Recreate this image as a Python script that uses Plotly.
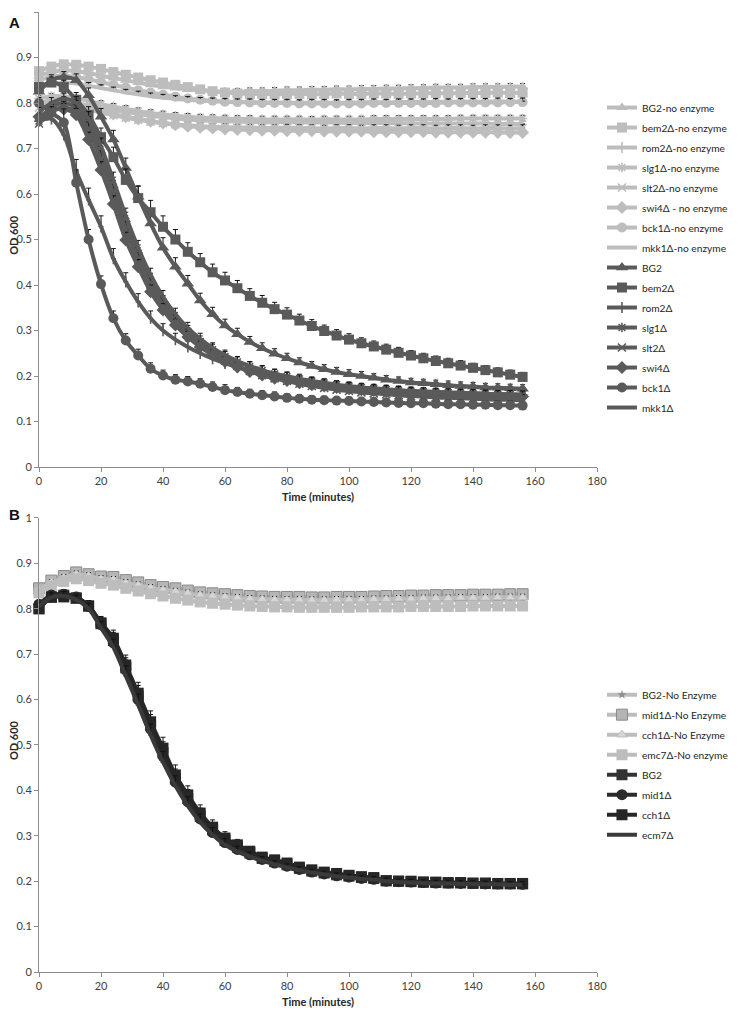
import plotly.graph_objects as go

# ---------------- data ----------------
time_min = [0, 4, 8, 12, 16, 20, 24, 28, 32, 36, 40, 44, 48, 52, 56, 60, 64, 68, 72, 76,
            80, 84, 88, 92, 96, 100, 104, 108, 112, 116, 120, 124, 128, 132, 136, 140, 144, 148, 152, 156]

x_ticks = [0, 20, 40, 60, 80, 100, 120, 140, 160, 180]

# Panel A - no enzyme controls
a_bg2_ne = [0.860, 0.868, 0.872, 0.870, 0.866, 0.860, 0.855, 0.850, 0.845, 0.840,
            0.836, 0.833, 0.830, 0.828, 0.826, 0.825, 0.825, 0.826, 0.826, 0.827,
            0.828, 0.828, 0.829, 0.829, 0.830, 0.830, 0.831, 0.831, 0.832, 0.832,
            0.833, 0.833, 0.834, 0.834, 0.834, 0.835, 0.835, 0.835, 0.836, 0.836]
a_bem2_ne = [0.870, 0.880, 0.885, 0.884, 0.880, 0.875, 0.868, 0.862, 0.856, 0.850,
             0.845, 0.840, 0.835, 0.830, 0.826, 0.823, 0.821, 0.820, 0.820, 0.819,
             0.820, 0.820, 0.819, 0.820, 0.821, 0.820, 0.820, 0.821, 0.821, 0.820,
             0.821, 0.821, 0.822, 0.821, 0.822, 0.822, 0.822, 0.823, 0.822, 0.823]
a_rom2_ne = [0.800, 0.805, 0.805, 0.800, 0.795, 0.790, 0.785, 0.780, 0.776, 0.772,
             0.769, 0.766, 0.764, 0.762, 0.761, 0.760, 0.759, 0.759, 0.758, 0.758,
             0.758, 0.757, 0.757, 0.757, 0.757, 0.756, 0.756, 0.756, 0.756, 0.756,
             0.755, 0.755, 0.755, 0.755, 0.755, 0.755, 0.755, 0.754, 0.754, 0.754]
a_slg1_ne = [0.810, 0.815, 0.815, 0.810, 0.805, 0.798, 0.792, 0.787, 0.782, 0.778,
             0.775, 0.772, 0.770, 0.768, 0.767, 0.766, 0.765, 0.765, 0.764, 0.764,
             0.764, 0.764, 0.763, 0.764, 0.764, 0.764, 0.764, 0.765, 0.765, 0.765,
             0.765, 0.765, 0.765, 0.765, 0.766, 0.766, 0.766, 0.766, 0.766, 0.766]
a_slt2_ne = [0.790, 0.795, 0.795, 0.790, 0.785, 0.779, 0.773, 0.768, 0.763, 0.759,
             0.756, 0.753, 0.751, 0.749, 0.748, 0.747, 0.746, 0.746, 0.745, 0.745,
             0.746, 0.745, 0.745, 0.744, 0.745, 0.745, 0.744, 0.745, 0.745, 0.744,
             0.745, 0.745, 0.744, 0.745, 0.745, 0.744, 0.745, 0.745, 0.744, 0.745]
a_swi4_ne = [0.800, 0.805, 0.803, 0.797, 0.790, 0.783, 0.776, 0.770, 0.765, 0.760,
             0.756, 0.752, 0.749, 0.747, 0.745, 0.743, 0.742, 0.741, 0.740, 0.740,
             0.739, 0.739, 0.739, 0.738, 0.738, 0.738, 0.738, 0.737, 0.737, 0.737,
             0.737, 0.737, 0.736, 0.736, 0.736, 0.736, 0.736, 0.735, 0.735, 0.735]
a_bck1_ne = [0.850, 0.858, 0.860, 0.857, 0.852, 0.846, 0.840, 0.834, 0.828, 0.823,
             0.818, 0.814, 0.810, 0.807, 0.805, 0.803, 0.802, 0.801, 0.800, 0.800,
             0.800, 0.799, 0.799, 0.799, 0.799, 0.799, 0.799, 0.800, 0.800, 0.800,
             0.800, 0.800, 0.800, 0.801, 0.801, 0.801, 0.801, 0.801, 0.802, 0.802]
a_mkk1_ne = [0.835, 0.842, 0.845, 0.843, 0.838, 0.833, 0.828, 0.823, 0.819, 0.815,
             0.812, 0.809, 0.807, 0.805, 0.804, 0.803, 0.802, 0.802, 0.801, 0.801,
             0.801, 0.800, 0.801, 0.801, 0.800, 0.801, 0.801, 0.802, 0.801, 0.802,
             0.802, 0.802, 0.803, 0.802, 0.803, 0.803, 0.803, 0.804, 0.803, 0.804]

# Panel A - with enzyme
a_bg2 = [0.825, 0.850, 0.857, 0.850, 0.817, 0.770, 0.720, 0.657, 0.594, 0.535,
         0.482, 0.440, 0.403, 0.366, 0.336, 0.311, 0.292, 0.275, 0.261, 0.249,
         0.239, 0.230, 0.222, 0.215, 0.209, 0.204, 0.200, 0.196, 0.192, 0.189,
         0.186, 0.184, 0.182, 0.180, 0.178, 0.177, 0.175, 0.174, 0.173, 0.172]
a_bem2 = [0.835, 0.845, 0.835, 0.807, 0.774, 0.725, 0.681, 0.631, 0.591, 0.560,
          0.528, 0.500, 0.473, 0.450, 0.428, 0.410, 0.393, 0.376, 0.361, 0.347,
          0.335, 0.322, 0.310, 0.299, 0.289, 0.280, 0.272, 0.265, 0.258, 0.251,
          0.245, 0.239, 0.233, 0.228, 0.223, 0.218, 0.213, 0.208, 0.203, 0.198]
a_rom2 = [0.760, 0.765, 0.730, 0.650, 0.587, 0.528, 0.458, 0.407, 0.363, 0.327,
          0.300, 0.280, 0.264, 0.250, 0.238, 0.228, 0.220, 0.212, 0.205, 0.199,
          0.193, 0.188, 0.184, 0.180, 0.177, 0.174, 0.171, 0.169, 0.167, 0.165,
          0.163, 0.161, 0.160, 0.159, 0.158, 0.157, 0.156, 0.155, 0.154, 0.153]
a_slg1 = [0.760, 0.790, 0.800, 0.790, 0.750, 0.690, 0.615, 0.540, 0.470, 0.410,
          0.362, 0.326, 0.298, 0.276, 0.258, 0.243, 0.231, 0.221, 0.212, 0.205,
          0.199, 0.194, 0.189, 0.185, 0.181, 0.178, 0.175, 0.173, 0.171, 0.169,
          0.167, 0.166, 0.165, 0.164, 0.163, 0.162, 0.161, 0.160, 0.160, 0.159]
a_slt2 = [0.755, 0.780, 0.790, 0.780, 0.740, 0.675, 0.600, 0.522, 0.456, 0.400,
          0.356, 0.320, 0.291, 0.268, 0.249, 0.234, 0.222, 0.211, 0.202, 0.195,
          0.189, 0.183, 0.178, 0.174, 0.170, 0.167, 0.164, 0.162, 0.160, 0.158,
          0.156, 0.155, 0.153, 0.152, 0.151, 0.150, 0.149, 0.148, 0.148, 0.147]
a_swi4 = [0.770, 0.785, 0.787, 0.774, 0.720, 0.653, 0.578, 0.499, 0.440, 0.385,
          0.345, 0.312, 0.286, 0.264, 0.246, 0.232, 0.220, 0.210, 0.202, 0.195,
          0.190, 0.185, 0.181, 0.178, 0.175, 0.172, 0.170, 0.168, 0.166, 0.164,
          0.163, 0.162, 0.161, 0.160, 0.159, 0.158, 0.157, 0.156, 0.155, 0.155]
a_bck1 = [0.800, 0.778, 0.757, 0.625, 0.500, 0.402, 0.327, 0.278, 0.245, 0.216,
          0.201, 0.192, 0.188, 0.183, 0.176, 0.169, 0.165, 0.161, 0.158, 0.155,
          0.152, 0.150, 0.148, 0.147, 0.146, 0.145, 0.144, 0.143, 0.142, 0.141,
          0.140, 0.140, 0.139, 0.138, 0.138, 0.137, 0.137, 0.136, 0.136, 0.135]
a_mkk1 = [0.780, 0.800, 0.810, 0.800, 0.765, 0.705, 0.630, 0.552, 0.482, 0.422,
          0.374, 0.336, 0.306, 0.282, 0.262, 0.246, 0.233, 0.222, 0.213, 0.205,
          0.199, 0.193, 0.188, 0.184, 0.180, 0.177, 0.174, 0.172, 0.170, 0.168,
          0.167, 0.166, 0.165, 0.164, 0.163, 0.162, 0.161, 0.160, 0.160, 0.159]

# Error bars (upper) for with-enzyme series in panel A
a_bg2_err = [0.010, 0.012, 0.012, 0.014, 0.016, 0.018, 0.020, 0.022, 0.024, 0.024,
             0.022, 0.020, 0.018, 0.016, 0.015, 0.014, 0.013, 0.012, 0.012, 0.011,
             0.011, 0.010, 0.010, 0.010, 0.010, 0.010, 0.010, 0.009, 0.009, 0.009,
             0.009, 0.009, 0.009, 0.009, 0.009, 0.009, 0.009, 0.009, 0.009, 0.009]
a_bem2_err = [0.010, 0.012, 0.014, 0.016, 0.018, 0.020, 0.022, 0.024, 0.026, 0.026,
              0.024, 0.022, 0.020, 0.019, 0.018, 0.018, 0.017, 0.016, 0.016, 0.015,
              0.015, 0.014, 0.014, 0.013, 0.013, 0.013, 0.012, 0.012, 0.012, 0.012,
              0.011, 0.011, 0.011, 0.011, 0.011, 0.010, 0.010, 0.010, 0.010, 0.010]
a_rom2_err = [0.010, 0.014, 0.022, 0.026, 0.026, 0.024, 0.022, 0.020, 0.018, 0.016,
              0.015, 0.014, 0.013, 0.012, 0.012, 0.011, 0.011, 0.010, 0.010, 0.010,
              0.010, 0.010, 0.009, 0.009, 0.009, 0.009, 0.009, 0.009, 0.009, 0.009,
              0.009, 0.009, 0.008, 0.008, 0.008, 0.008, 0.008, 0.008, 0.008, 0.008]
a_slg1_err = [0.010, 0.012, 0.014, 0.016, 0.020, 0.022, 0.022, 0.020, 0.018, 0.016,
              0.015, 0.014, 0.013, 0.012, 0.012, 0.011, 0.011, 0.010, 0.010, 0.010,
              0.010, 0.010, 0.009, 0.009, 0.009, 0.009, 0.009, 0.009, 0.009, 0.009,
              0.009, 0.008, 0.008, 0.008, 0.008, 0.008, 0.008, 0.008, 0.008, 0.008]
a_slt2_err = [0.010, 0.012, 0.014, 0.016, 0.018, 0.020, 0.020, 0.018, 0.016, 0.015,
              0.014, 0.013, 0.012, 0.012, 0.011, 0.011, 0.010, 0.010, 0.010, 0.010,
              0.009, 0.009, 0.009, 0.009, 0.009, 0.009, 0.009, 0.009, 0.008, 0.008,
              0.008, 0.008, 0.008, 0.008, 0.008, 0.008, 0.008, 0.008, 0.008, 0.008]
a_swi4_err = [0.010, 0.012, 0.012, 0.014, 0.016, 0.018, 0.018, 0.017, 0.016, 0.015,
              0.014, 0.013, 0.012, 0.011, 0.011, 0.010, 0.010, 0.010, 0.009, 0.009,
              0.009, 0.009, 0.009, 0.009, 0.008, 0.008, 0.008, 0.008, 0.008, 0.008,
              0.008, 0.008, 0.008, 0.008, 0.008, 0.008, 0.008, 0.008, 0.008, 0.008]
a_bck1_err = [0.012, 0.014, 0.030, 0.028, 0.022, 0.018, 0.016, 0.015, 0.014, 0.013,
              0.012, 0.011, 0.011, 0.011, 0.011, 0.012, 0.010, 0.010, 0.010, 0.010,
              0.009, 0.009, 0.009, 0.009, 0.009, 0.009, 0.009, 0.009, 0.009, 0.009,
              0.009, 0.009, 0.009, 0.009, 0.009, 0.009, 0.009, 0.009, 0.009, 0.009]
a_mkk1_err = [0.010, 0.012, 0.012, 0.014, 0.016, 0.018, 0.018, 0.017, 0.016, 0.015,
              0.014, 0.013, 0.012, 0.012, 0.011, 0.011, 0.010, 0.010, 0.010, 0.010,
              0.009, 0.009, 0.009, 0.009, 0.009, 0.009, 0.009, 0.009, 0.009, 0.009,
              0.008, 0.008, 0.008, 0.008, 0.008, 0.008, 0.008, 0.008, 0.008, 0.008]

# shared small error values for no-enzyme controls
ne_err = [0.006, 0.006, 0.007, 0.007, 0.007, 0.007, 0.007, 0.007, 0.007, 0.007,
          0.007, 0.007, 0.007, 0.007, 0.007, 0.007, 0.007, 0.007, 0.007, 0.007,
          0.007, 0.007, 0.007, 0.007, 0.007, 0.007, 0.007, 0.007, 0.007, 0.007,
          0.007, 0.007, 0.007, 0.007, 0.007, 0.007, 0.007, 0.007, 0.007, 0.007]

# Panel B - no enzyme controls
b_bg2_ne = [0.840, 0.855, 0.865, 0.872, 0.868, 0.862, 0.860, 0.853, 0.848, 0.842,
            0.838, 0.834, 0.830, 0.826, 0.824, 0.821, 0.819, 0.817, 0.816, 0.815,
            0.815, 0.815, 0.814, 0.814, 0.815, 0.815, 0.815, 0.816, 0.816, 0.816,
            0.817, 0.817, 0.817, 0.818, 0.818, 0.818, 0.818, 0.818, 0.819, 0.819]
b_mid1_ne = [0.845, 0.862, 0.872, 0.880, 0.876, 0.871, 0.870, 0.863, 0.858, 0.852,
             0.848, 0.845, 0.840, 0.836, 0.834, 0.832, 0.830, 0.828, 0.827, 0.826,
             0.826, 0.826, 0.825, 0.825, 0.826, 0.826, 0.826, 0.827, 0.828, 0.828,
             0.829, 0.829, 0.830, 0.830, 0.830, 0.831, 0.831, 0.831, 0.832, 0.832]
b_cch1_ne = [0.842, 0.858, 0.868, 0.876, 0.872, 0.866, 0.864, 0.857, 0.852, 0.846,
             0.842, 0.838, 0.834, 0.830, 0.828, 0.826, 0.824, 0.822, 0.821, 0.820,
             0.820, 0.820, 0.819, 0.819, 0.820, 0.820, 0.820, 0.821, 0.821, 0.822,
             0.822, 0.823, 0.823, 0.823, 0.824, 0.824, 0.824, 0.825, 0.825, 0.825]
b_emc7_ne = [0.835, 0.850, 0.860, 0.866, 0.862, 0.856, 0.852, 0.845, 0.839, 0.833,
             0.828, 0.823, 0.819, 0.815, 0.812, 0.810, 0.808, 0.806, 0.805, 0.804,
             0.804, 0.803, 0.803, 0.803, 0.803, 0.803, 0.804, 0.804, 0.804, 0.804,
             0.805, 0.805, 0.805, 0.805, 0.805, 0.806, 0.806, 0.806, 0.806, 0.806]

# Panel B - with enzyme
b_bg2 = [0.800, 0.825, 0.830, 0.824, 0.806, 0.767, 0.730, 0.670, 0.607, 0.543,
         0.483, 0.425, 0.382, 0.343, 0.313, 0.290, 0.275, 0.262, 0.250, 0.243,
         0.236, 0.228, 0.222, 0.218, 0.214, 0.211, 0.208, 0.206, 0.201, 0.200,
         0.199, 0.198, 0.197, 0.196, 0.196, 0.195, 0.195, 0.194, 0.194, 0.194]
b_mid1 = [0.810, 0.830, 0.832, 0.826, 0.805, 0.765, 0.725, 0.665, 0.600, 0.535,
          0.475, 0.418, 0.375, 0.337, 0.307, 0.285, 0.270, 0.258, 0.248, 0.240,
          0.233, 0.226, 0.220, 0.216, 0.212, 0.209, 0.206, 0.204, 0.200, 0.199,
          0.198, 0.197, 0.196, 0.196, 0.195, 0.195, 0.194, 0.194, 0.194, 0.193]
b_cch1 = [0.800, 0.826, 0.826, 0.823, 0.806, 0.769, 0.735, 0.676, 0.614, 0.551,
          0.493, 0.434, 0.390, 0.350, 0.319, 0.295, 0.280, 0.266, 0.253, 0.247,
          0.240, 0.231, 0.225, 0.220, 0.217, 0.213, 0.210, 0.208, 0.201, 0.200,
          0.200, 0.198, 0.198, 0.197, 0.197, 0.196, 0.196, 0.195, 0.195, 0.195]
b_ecm7 = [0.805, 0.825, 0.828, 0.820, 0.800, 0.758, 0.715, 0.652, 0.588, 0.522,
          0.462, 0.410, 0.366, 0.330, 0.302, 0.280, 0.265, 0.254, 0.245, 0.237,
          0.230, 0.224, 0.219, 0.215, 0.211, 0.208, 0.205, 0.203, 0.200, 0.198,
          0.197, 0.196, 0.195, 0.195, 0.194, 0.194, 0.193, 0.193, 0.192, 0.192]

b_dark_err = [0.008, 0.010, 0.010, 0.010, 0.012, 0.014, 0.018, 0.022, 0.024, 0.024,
              0.024, 0.022, 0.020, 0.018, 0.016, 0.014, 0.012, 0.010, 0.009, 0.008,
              0.008, 0.008, 0.007, 0.007, 0.007, 0.007, 0.007, 0.007, 0.007, 0.007,
              0.007, 0.007, 0.007, 0.007, 0.007, 0.007, 0.007, 0.007, 0.007, 0.007]

# ---------------- styling ----------------
FONT = "Lato"
A_DARK = "#5a5a5a"
LIGHT = "#bdbdbd"
B_DARK = "#2b2b2b"

fig = go.Figure()


def add(y, err, name, color, symbol, size, panel, line_sym=False, mcolor=None,
        mline=None, mlw=0, lw=4):
    xa, ya, lg = ("x", "y", "legend") if panel == "A" else ("x2", "y2", "legend2")
    mc = mcolor or color
    marker = dict(symbol=symbol, size=size, color=mc,
                  line=dict(color=mline or mc, width=mlw))
    if line_sym:
        marker["line"] = dict(color=mc, width=1.6)
    fig.add_trace(go.Scatter(
        x=time_min, y=y, name=name, mode="lines+markers" if symbol else "lines",
        line=dict(color=color, width=lw, shape="spline", smoothing=0.8),
        marker=marker if symbol else None,
        error_y=dict(type="data", array=err, symmetric=False,
                     arrayminus=[0] * len(err), color="#111111",
                     thickness=1, width=2.5),
        xaxis=xa, yaxis=ya, legend=lg, legendgroup=name + panel,
        cliponaxis=False,
    ))


# Panel A traces (light first, then dark on top)
add(a_bg2_ne, ne_err, "BG2-no enzyme", LIGHT, "triangle-up", 10, "A")
add(a_bem2_ne, ne_err, "bem2Δ-no enzyme", LIGHT, "square", 10, "A")
add(a_rom2_ne, ne_err, "rom2Δ-no enzyme", LIGHT, "line-ns", 8, "A", line_sym=True)
add(a_slg1_ne, ne_err, "slg1Δ-no enzyme", LIGHT, "asterisk", 8, "A", line_sym=True)
add(a_slt2_ne, ne_err, "slt2Δ-no enzyme", LIGHT, "x-thin", 8, "A", line_sym=True)
add(a_swi4_ne, ne_err, "swi4Δ - no enzyme", LIGHT, "diamond", 10, "A")
add(a_bck1_ne, ne_err, "bck1Δ-no enzyme", LIGHT, "circle", 10, "A")
add(a_mkk1_ne, ne_err, "mkk1Δ-no enzyme", LIGHT, None, 0, "A")

add(a_bg2, a_bg2_err, "BG2", A_DARK, "triangle-up", 11, "A")
add(a_bem2, a_bem2_err, "bem2Δ", A_DARK, "square", 10, "A")
add(a_rom2, a_rom2_err, "rom2Δ", A_DARK, "line-ns", 8, "A", line_sym=True)
add(a_slg1, a_slg1_err, "slg1Δ", A_DARK, "asterisk", 8, "A", line_sym=True)
add(a_slt2, a_slt2_err, "slt2Δ", A_DARK, "x-thin", 8, "A", line_sym=True)
add(a_swi4, a_swi4_err, "swi4Δ", A_DARK, "diamond", 10, "A")
add(a_bck1, a_bck1_err, "bck1Δ", A_DARK, "circle", 10, "A")
add(a_mkk1, a_mkk1_err, "mkk1Δ", A_DARK, None, 0, "A")

# Panel B traces
add(b_bg2_ne, ne_err, "BG2-No Enzyme", LIGHT, "star", 7, "B", mcolor="#8f8f8f")
add(b_mid1_ne, ne_err, "mid1Δ-No Enzyme", LIGHT, "square", 11, "B", mcolor="#b5b5b5",
    mline="#8a8a8a", mlw=1)
add(b_cch1_ne, ne_err, "cch1Δ-No Enzyme", LIGHT, "triangle-up", 9, "B", mcolor="#d6d6d6",
    mline="#bdbdbd", mlw=1)
add(b_emc7_ne, ne_err, "emc7Δ-No enzyme", LIGHT, "square", 11, "B")
add(b_bg2, b_dark_err, "BG2", "#333333", "square", 11, "B")
add(b_mid1, b_dark_err, "mid1Δ", B_DARK, "circle", 11, "B")
add(b_cch1, b_dark_err, "cch1Δ", "#262626", "square", 11, "B")
add(b_ecm7, b_dark_err, "ecm7Δ", "#3a3a3a", None, 0, "B")

axis_common = dict(showline=True, linecolor="#8c8c8c", linewidth=1, ticks="outside",
                   ticklen=4, tickcolor="#8c8c8c", showgrid=False, zeroline=False,
                   automargin=False,
                   tickfont=dict(family=FONT, size=11, color="#404040"))

xaxis_cfg = dict(axis_common, range=[0, 180], tickvals=x_ticks,
                 title=dict(text="<b>Time (minutes)</b>", standoff=7,
                            font=dict(family=FONT, size=11, color="#262626")))
yaxis_cfg = dict(axis_common, range=[0, 1], dtick=0.1, tick0=0)

legend_cfg = dict(xanchor="left", yanchor="top", itemwidth=30, tracegroupgap=1,
                  traceorder="grouped", bgcolor="rgba(0,0,0,0)",
                  font=dict(family=FONT, size=10.2, color="#262626"))

ylab_font = dict(family=FONT, size=11, color="#262626")
panel_font = dict(family="Liberation Sans", size=15, color="#111111")

fig.update_layout(
    width=729, height=1003,
    margin=dict(l=31, r=137, t=4, b=39, autoexpand=True),
    paper_bgcolor="white", plot_bgcolor="white",
    xaxis=dict(xaxis_cfg, domain=[0, 1], anchor="y"),
    yaxis=dict(yaxis_cfg, domain=[0.526, 1.0], anchor="x"),
    xaxis2=dict(xaxis_cfg, domain=[0, 1], anchor="y2"),
    yaxis2=dict(yaxis_cfg, domain=[0.0, 0.473], anchor="x2"),
    legend=dict(legend_cfg, x=1.0089, y=0.9156),
    legend2=dict(legend_cfg, x=1.0089, y=0.304),
    annotations=[
        dict(text="<b>A</b>", x=-0.058, y=1.0, xref="paper", yref="paper",
             showarrow=False, xanchor="left", yanchor="top", font=panel_font),
        dict(text="<b>B</b>", x=-0.058, y=0.4875, xref="paper", yref="paper",
             showarrow=False, xanchor="left", yanchor="top", font=panel_font),
        dict(text="<b>OD 600</b>", x=-0.0446, y=0.768, xref="paper", yref="paper",
             showarrow=False, textangle=-90, xanchor="center", yanchor="middle",
             font=ylab_font),
        dict(text="<b>OD 600</b>", x=-0.0446, y=0.2417, xref="paper", yref="paper",
             showarrow=False, textangle=-90, xanchor="center", yanchor="middle",
             font=ylab_font),
    ],
)

fig.write_html("out.html")
